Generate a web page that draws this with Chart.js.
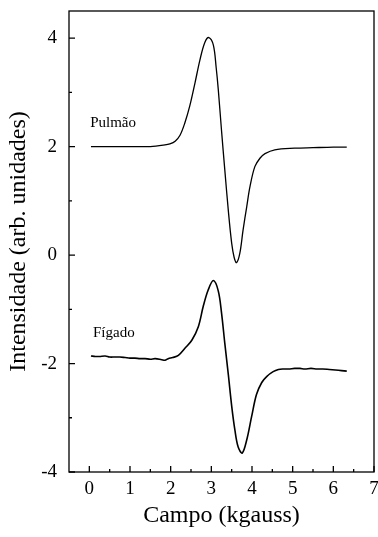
<!DOCTYPE html>
<html>
<head>
<meta charset="utf-8">
<script src="https://cdn.jsdelivr.net/npm/chart.js@4.4.1/dist/chart.umd.min.js"></script>
<style>
  html, body { margin: 0; padding: 0; background: #fff; overflow: hidden; }
</style>
</head>
<body>
<canvas id="chart" width="378" height="537"></canvas>
<script>
// EPR spectra (field in kgauss, intensity in arb. units)
const pulmaoX = [0.04, 0.5, 1.0, 1.5, 1.86, 1.98, 2.11, 2.23, 2.35, 2.47, 2.60, 2.72, 2.84, 2.94, 3.05, 3.12,
  3.17, 3.25, 3.33, 3.42, 3.50, 3.56, 3.62, 3.70, 3.78, 3.87, 3.95, 4.07, 4.20, 4.32, 4.56, 5.05, 5.5, 6.0, 6.33];
const pulmaoY = [2.00, 2.00, 2.00, 2.00, 2.03, 2.05, 2.10, 2.21, 2.44, 2.75, 3.18, 3.60, 3.92, 4.01, 3.87, 3.45,
  3.06, 2.30, 1.58, 0.80, 0.22, -0.04, -0.14, 0.03, 0.46, 0.89, 1.26, 1.63, 1.79, 1.87, 1.94, 1.97, 1.98, 1.99, 1.99];

const figadoX = [0.04, 0.15, 0.25, 0.39, 0.5, 0.62, 0.75, 0.88, 1.0, 1.12, 1.25, 1.37, 1.5, 1.62, 1.78, 1.86, 1.94,
  2.05, 2.19, 2.35, 2.52, 2.68, 2.80, 2.92, 3.05, 3.17, 3.25, 3.33, 3.42, 3.50, 3.58, 3.66, 3.76, 3.87, 3.99,
  4.11, 4.24, 4.36, 4.52, 4.65, 4.77, 4.9, 5.05, 5.18, 5.3, 5.45, 5.6, 5.74, 5.9, 6.05, 6.2, 6.33];
const figadoY = [-1.86, -1.87, -1.87, -1.86, -1.88, -1.88, -1.88, -1.89, -1.90, -1.90, -1.91, -1.91, -1.92, -1.91, -1.93, -1.94, -1.91,
  -1.89, -1.85, -1.72, -1.57, -1.32, -0.95, -0.65, -0.47, -0.66, -1.06, -1.62, -2.22, -2.78, -3.23, -3.54, -3.65, -3.41, -2.98,
  -2.57, -2.35, -2.24, -2.15, -2.11, -2.10, -2.10, -2.09, -2.09, -2.10, -2.09, -2.10, -2.10, -2.11, -2.12, -2.13, -2.14];

const xTicks = [0, 1, 2, 3, 4, 5, 6, 7];
const yTicks = [-4, -2, 0, 2, 4];
const xMinor = [0.5, 1.5, 2.5, 3.5, 4.5, 5.5, 6.5];
const yMinor = [-3, -1, 1, 3];

const noteLabels = ['Pulmão', 'Fígado'];
const noteX = [0.02, 0.09];
const noteY = [2.43, -1.43];

const serif = '"Liberation Serif", "Times New Roman", serif';

const toPoints = (xs, ys) => xs.map((v, i) => ({ x: v, y: ys[i] }));

const frameAndTicks = {
  id: 'frameAndTicks',
  afterDatasetsDraw(chart) {
    const { ctx, chartArea: a, scales: { x, y } } = chart;
    ctx.save();
    ctx.strokeStyle = '#000';
    ctx.lineWidth = 1.3;
    ctx.strokeRect(a.left, a.top, a.right - a.left, a.bottom - a.top);

    ctx.beginPath();
    xTicks.forEach(v => {
      const px = x.getPixelForValue(v);
      ctx.moveTo(px, a.bottom); ctx.lineTo(px, a.bottom - 6);
    });
    xMinor.forEach(v => {
      const px = x.getPixelForValue(v);
      ctx.moveTo(px, a.bottom); ctx.lineTo(px, a.bottom - 3);
    });
    yTicks.forEach(v => {
      const py = y.getPixelForValue(v);
      ctx.moveTo(a.left, py); ctx.lineTo(a.left + 6, py);
    });
    yMinor.forEach(v => {
      const py = y.getPixelForValue(v);
      ctx.moveTo(a.left, py); ctx.lineTo(a.left + 3, py);
    });
    ctx.stroke();

    ctx.fillStyle = '#000';
    ctx.font = '15px ' + serif;
    ctx.textAlign = 'left';
    ctx.textBaseline = 'middle';
    noteLabels.forEach((t, i) => {
      ctx.fillText(t, x.getPixelForValue(noteX[i]), y.getPixelForValue(noteY[i]));
    });
    ctx.restore();
  }
};

new Chart(document.getElementById('chart'), {
  type: 'line',
  data: {
    datasets: [
      {
        label: 'Pulmão',
        data: toPoints(pulmaoX, pulmaoY),
        borderColor: '#000',
        borderWidth: 1.3,
        pointRadius: 0,
        tension: 0.35
      },
      {
        label: 'Fígado',
        data: toPoints(figadoX, figadoY),
        borderColor: '#000',
        borderWidth: 1.6,
        pointRadius: 0,
        tension: 0.35
      }
    ]
  },
  options: {
    responsive: false,
    animation: false,
    layout: { padding: { top: 11, right: 4, left: 0, bottom: 0 } },
    plugins: {
      legend: { display: false },
      tooltip: { enabled: false }
    },
    scales: {
      x: {
        type: 'linear',
        min: -0.5,
        max: 7,
        grid: { display: false, drawTicks: false },
        border: { display: false },
        afterBuildTicks: s => { s.ticks = xTicks.map(v => ({ value: v })); },
        afterFit: s => { s.height = 65; s.paddingLeft = 0; s.paddingRight = 0; },
        ticks: {
          padding: 6,
          color: '#000',
          font: { family: serif, size: 19 },
          maxRotation: 0
        },
        title: {
          display: true,
          text: 'Campo (kgauss)',
          color: '#000',
          font: { family: serif, size: 24 },
          padding: { top: 0, bottom: 7 }
        }
      },
      y: {
        type: 'linear',
        min: -4,
        max: 4.5,
        grid: { display: false, drawTicks: false },
        border: { display: false },
        afterBuildTicks: s => { s.ticks = yTicks.map(v => ({ value: v })); },
        afterFit: s => { s.width = 69; s.paddingTop = 0; s.paddingBottom = 0; },
        ticks: {
          padding: 12,
          color: '#000',
          font: { family: serif, size: 19 }
        },
        title: {
          display: true,
          text: 'Intensidade (arb. unidades)',
          color: '#000',
          font: { family: serif, size: 24 },
          padding: { top: 4, bottom: 0 }
        }
      }
    }
  },
  plugins: [frameAndTicks]
});
</script>
</body>
</html>
